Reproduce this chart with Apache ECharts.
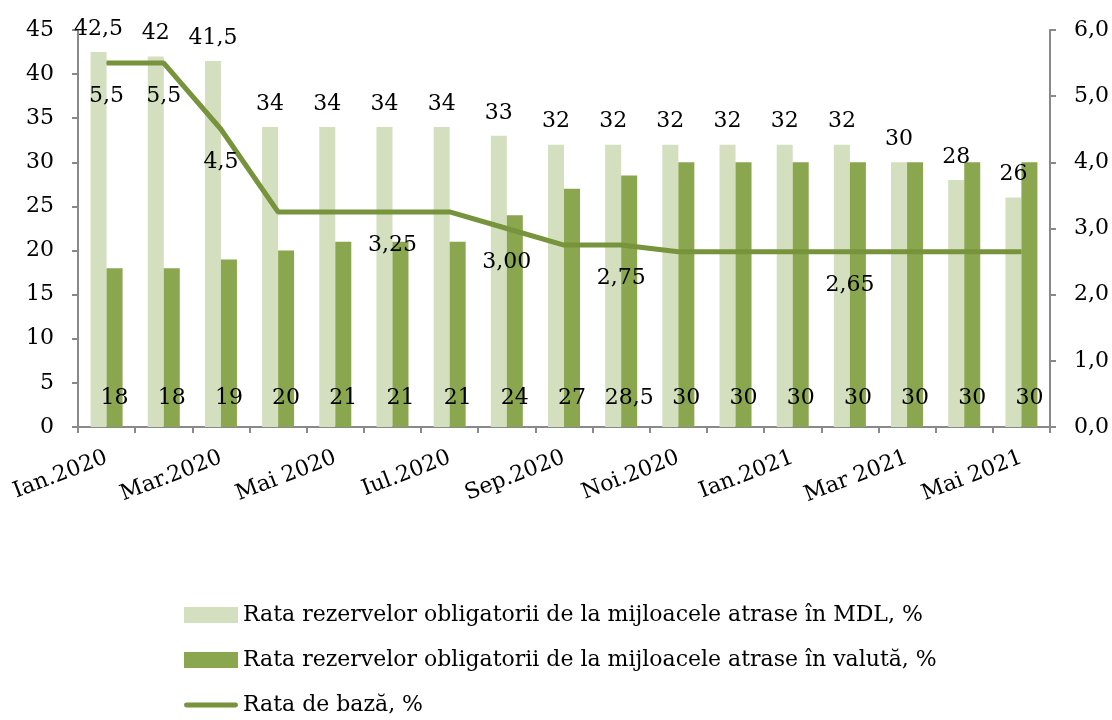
<!DOCTYPE html>
<html>
<head>
<meta charset="utf-8">
<script src="https://cdn.jsdelivr.net/npm/echarts@6/dist/echarts.min.js"></script>
<style>
  html, body { margin: 0; padding: 0; background: #fff; }
  #container_rates { width: 1112px; height: 720px; }
</style>
</head>
<body>
<div id="container_rates"></div>
<script>
var categories = ['Ian.2020', 'Feb.2020', 'Mar.2020', 'Apr.2020', 'Mai 2020', 'Iun.2020', 'Iul.2020', 'Aug.2020',
  'Sep.2020', 'Oct.2020', 'Noi.2020', 'Dec.2020', 'Ian.2021', 'Feb 2021', 'Mar 2021', 'Apr 2021', 'Mai 2021'];
var mdlValues = [42.5, 42, 41.5, 34, 34, 34, 34, 33, 32, 32, 32, 32, 32, 32, 30, 28, 26];
var valutaValues = [18, 18, 19, 20, 21, 21, 21, 24, 27, 28.5, 30, 30, 30, 30, 30, 30, 30];
var bazaValues = [5.5, 5.5, 4.5, 3.25, 3.25, 3.25, 3.25, 3.0, 2.75, 2.75, 2.65, 2.65, 2.65, 2.65, 2.65, 2.65, 2.65];
// only some points of the line carry a label in the original
var bazaLabels = ['5,5', '5,5', '4,5', '', '', '3,25', '', '3,00', '', '2,75', '', '', '', '2,65', '', '', ''];
var leftTicks = [0, 45, 5];
var rightTicks = [0, 6, 1];

var fontName = 'DejaVu Serif';
var fontSize = 22;
var axisGray = '#898989';

function comma(v) { return String(v).replace('.', ','); }

var myChart = echarts.init(document.getElementById('container_rates'));
var option = {
  animation: false,
  textStyle: { fontFamily: fontName, color: '#000' },
  grid: { left: 78, right: 62, top: 30, bottom: 293, outerBoundsMode: 'none' },
  legend: {
    orient: 'vertical',
    left: 184,
    top: 603,
    padding: 0,
    itemWidth: 54,
    itemHeight: 16,
    itemGap: 21,
    textStyle: { fontFamily: fontName, fontSize: fontSize, lineHeight: 24, color: '#000' },
    data: [
      { name: 'Rata rezervelor obligatorii de la mijloacele atrase în MDL, %', icon: 'rect' },
      { name: 'Rata rezervelor obligatorii de la mijloacele atrase în valută, %', icon: 'rect' },
      { name: 'Rata de bază, %', icon: 'path://M2,0 L52,0 A2.5,2.5 0 0 1 52,5 L2,5 A2.5,2.5 0 0 1 2,0 Z' }
    ]
  },
  xAxis: {
    type: 'category',
    data: categories,
    axisLine: { lineStyle: { color: axisGray, width: 2 } },
    axisTick: { show: true, length: 6, interval: 0, lineStyle: { color: axisGray, width: 2 } },
    axisLabel: {
      interval: 1,
      rotate: 21,
      margin: 30,
      fontFamily: fontName,
      fontSize: fontSize,
      color: '#000'
    },
    splitLine: { show: false }
  },
  yAxis: [
    {
      type: 'value',
      min: leftTicks[0], max: leftTicks[1], interval: leftTicks[2],
      axisLine: { show: true, lineStyle: { color: axisGray, width: 2 } },
      axisTick: { show: true, length: 6, lineStyle: { color: axisGray, width: 2 } },
      axisLabel: { fontFamily: fontName, fontSize: fontSize, color: '#000', margin: 24 },
      splitLine: { show: false }
    },
    {
      type: 'value',
      min: rightTicks[0], max: rightTicks[1], interval: rightTicks[2],
      axisLine: { show: true, lineStyle: { color: axisGray, width: 2 } },
      axisTick: { show: true, length: 6, lineStyle: { color: axisGray, width: 2 } },
      axisLabel: {
        fontFamily: fontName, fontSize: fontSize, color: '#000', margin: 24,
        formatter: function (v) { return v.toFixed(1).replace('.', ','); }
      },
      splitLine: { show: false }
    }
  ],
  series: [
    {
      name: 'Rata rezervelor obligatorii de la mijloacele atrase în MDL, %',
      type: 'bar',
      data: mdlValues,
      barWidth: 16,
      barGap: '0%',
      itemStyle: { color: '#d3dfbe' },
      label: {
        show: true, position: 'top', distance: 12,
        fontFamily: fontName, fontSize: fontSize, color: '#000',
        formatter: function (p) { return comma(p.value); }
      }
    },
    {
      name: 'Rata rezervelor obligatorii de la mijloacele atrase în valută, %',
      type: 'bar',
      data: valutaValues,
      barWidth: 16,
      barGap: '0%',
      itemStyle: { color: '#8aa64f' },
      label: {
        show: true, position: 'insideBottom', distance: 18,
        fontFamily: fontName, fontSize: fontSize, color: '#000',
        formatter: function (p) { return comma(p.value); }
      }
    },
    {
      name: 'Rata de bază, %',
      type: 'line',
      yAxisIndex: 1,
      data: bazaValues,
      symbol: 'circle',
      symbolSize: 1,
      showSymbol: true,
      lineStyle: { color: '#77933c', width: 5 },
      itemStyle: { color: '#77933c' },
      z: 5,
      label: {
        show: true, position: 'bottom', distance: 22,
        fontFamily: fontName, fontSize: fontSize, color: '#000',
        formatter: function (p) { return bazaLabels[p.dataIndex]; }
      }
    }
  ]
};
myChart.setOption(option);
window.onresize = myChart.resize;
</script>
</body>
</html>
